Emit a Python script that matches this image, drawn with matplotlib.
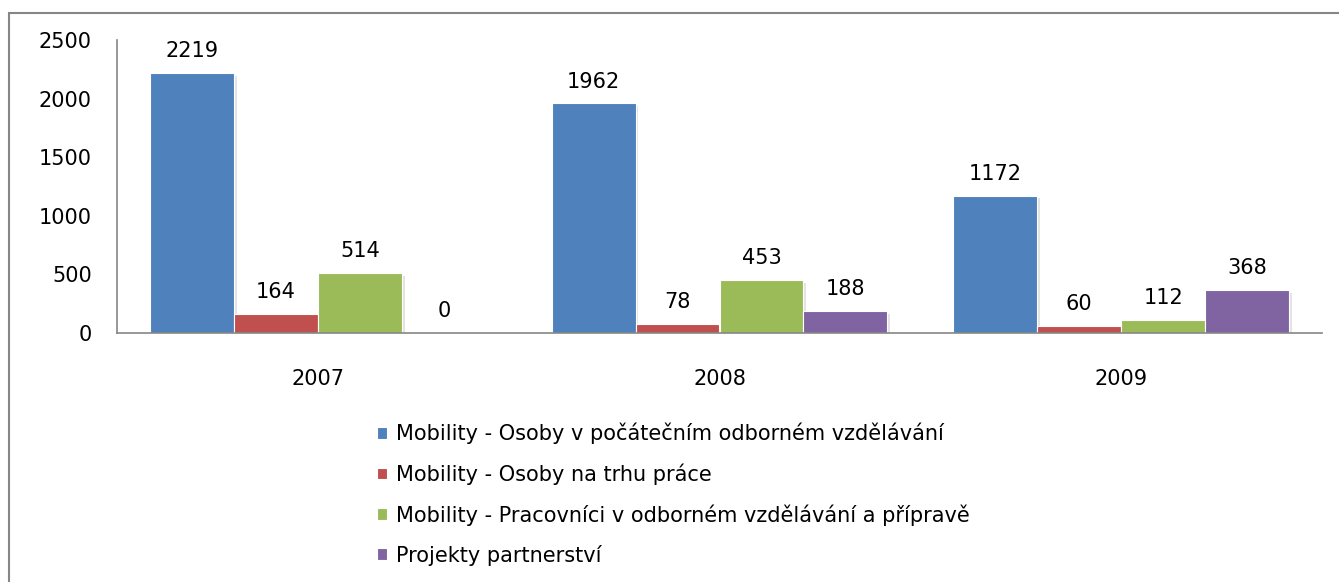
"""Grouped bar chart of Leonardo mobility/partnership counts, 2007-2009."""
import matplotlib
matplotlib.use('Agg')
import matplotlib.pyplot as plt
import matplotlib.patheffects as pe
from matplotlib.patches import Rectangle
import numpy as np

years = ['2007', '2008', '2009']
series_names = ['Mobility - Osoby v počátečním odborném vzdělávání',
                'Mobility - Osoby na trhu práce',
                'Mobility - Pracovníci v odborném vzdělávání a přípravě',
                'Projekty partnerství']
initial_vet = [2219, 1962, 1172]
labour_market = [164, 78, 60]
vet_staff = [514, 453, 112]
partnerships = [0, 188, 368]
colors = ['#4F81BD', '#C0504D', '#9BBB59', '#8064A2']

plt.rcParams['font.family'] = ['DejaVu Sans']
fs = 15

fig = plt.figure(figsize=(13.39, 5.82), dpi=100)
ax = fig.add_axes([117 / 1339, 1 - 333 / 582, 1205 / 1339, 293 / 582])

# Outer chart-area border (runs off the right and bottom edges).
fig.patches.append(Rectangle((9 / 1339, -0.1), 1.2, 1.1 - 13 / 582,
                             transform=fig.transFigure, fill=False,
                             edgecolor='#868686', linewidth=1.5))

x = np.arange(len(years))
width = 0.209
shadow = [pe.SimplePatchShadow(offset=(2, -2), shadow_rgbFace='#b0b0b0',
                               alpha=0.35), pe.Normal()]
all_values = [initial_vet, labour_market, vet_staff, partnerships]
for i, (vals, name, col) in enumerate(zip(all_values, series_names, colors)):
    pos = x + (i - 1.5) * width
    bars = ax.bar(pos, vals, width, color=col, edgecolor='white',
                  linewidth=0.8, label=name, path_effects=shadow)
    for b, v in zip(bars, vals):
        ax.annotate(str(v), (b.get_x() + b.get_width() / 2, v),
                    xytext=(0, 15.5), textcoords='offset points',
                    ha='center', va='center', fontsize=fs)

ax.set_xlim(-0.5, 2.5)
ax.set_ylim(0, 2500)
ax.set_yticks([0, 500, 1000, 1500, 2000, 2500])
ax.set_xticks(x)
ax.set_xticklabels(years)
ax.tick_params(axis='both', length=0, labelsize=fs)
ax.tick_params(axis='y', pad=18)
ax.tick_params(axis='x', pad=26)
for side in ['top', 'right']:
    ax.spines[side].set_visible(False)
for side in ['left', 'bottom']:
    ax.spines[side].set_color('#868686')
    ax.spines[side].set_linewidth(1.2)

leg = fig.legend(loc='upper left',
                 bbox_to_anchor=(358 / 1339, 1 - 404 / 582),
                 frameon=False, fontsize=fs, handlelength=0.5,
                 handleheight=0.5, handletextpad=0.4, labelspacing=0.92)
for p in leg.get_patches():
    p.set_path_effects([])

fig.savefig('out.png', dpi=100)
